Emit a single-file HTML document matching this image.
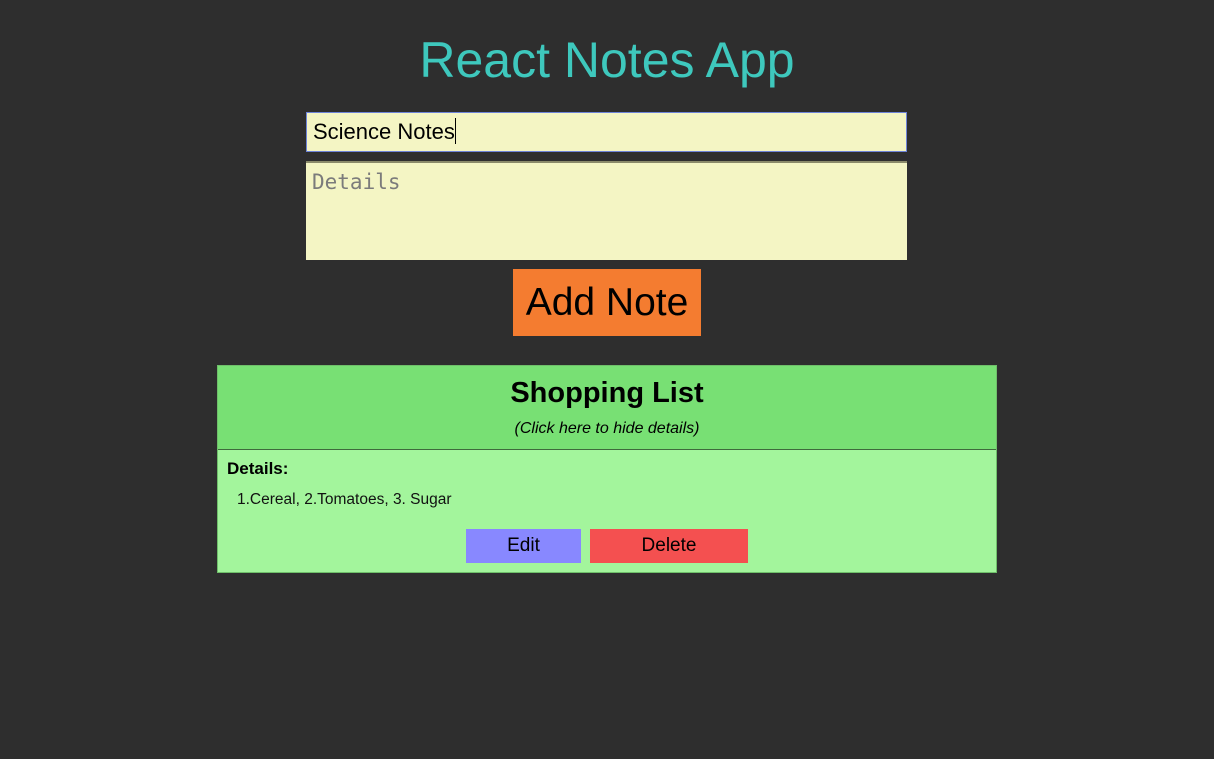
<!DOCTYPE html>
<html><head><style>
body{margin:0;width:1214px;height:759px;background:#2e2e2e;font-family:"Liberation Sans",sans-serif;position:relative;overflow:hidden}
.a{position:absolute;box-sizing:border-box}
</style></head><body>
<div class="a" style="left:0;width:1214px;top:29px;text-align:center;font-size:50px;line-height:62px;color:#3ec8bd">React Notes App</div>
<div class="a" style="left:306px;top:112px;width:601px;height:40px;background:#f4f5c4;border:1px solid #6d83d8;font-size:22px;line-height:38px;padding-left:6px;color:#000">Science Notes<span style="display:inline-block;width:1px;height:26px;background:#000;vertical-align:-5px"></span></div>
<div class="a" style="left:306px;top:161px;width:601px;height:99px;background:#f4f5c4;border-top:2px solid #8a8a6a;font-family:'DejaVu Sans Mono','Liberation Mono',monospace;font-size:21px;color:#7b7b7b;padding:7px 0 0 6px">Details</div>
<div class="a" style="left:513px;top:269px;width:188px;height:67px;background:#f47c30;text-align:center;font-size:39px;line-height:67px;color:#000">Add Note</div>
<div class="a" style="left:217px;top:365px;width:780px;height:208px;background:#a3f59c;border:1px solid #6fbf6a"></div>
<div class="a" style="left:218px;top:366px;width:778px;height:84px;background:#78e074;border-bottom:1px solid #3f6a3c"></div>
<div class="a" style="left:217px;top:373px;width:780px;text-align:center;font-size:29px;font-weight:bold;line-height:40px">Shopping List</div>
<div class="a" style="left:217px;top:419px;width:780px;text-align:center;font-size:16px;font-style:italic;line-height:20px">(Click here to hide details)</div>
<div class="a" style="left:227px;top:459px;font-size:17px;font-weight:bold;line-height:20px">Details:</div>
<div class="a" style="left:237px;top:491px;font-size:15.5px;line-height:18px;color:#111">1.Cereal, 2.Tomatoes, 3. Sugar</div>
<div class="a" style="left:466px;top:529px;width:115px;height:34px;background:#8888ff;text-align:center;font-size:19px;line-height:34px">Edit</div>
<div class="a" style="left:590px;top:529px;width:158px;height:34px;background:#f45050;text-align:center;font-size:19px;line-height:34px">Delete</div>
</body></html>
